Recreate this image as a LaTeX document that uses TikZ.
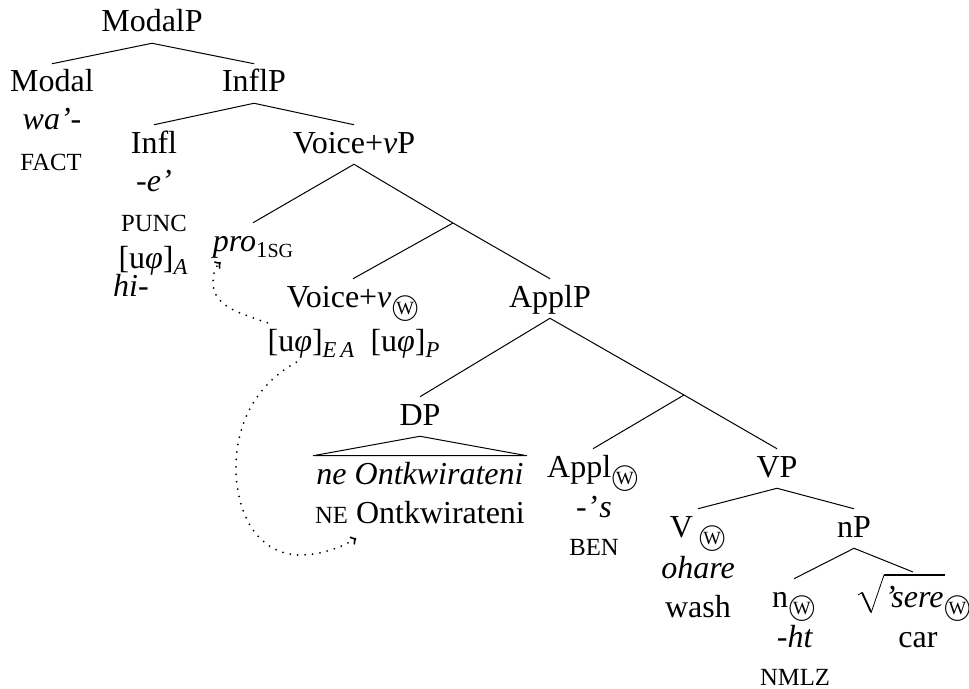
\documentclass[tikz,border=0pt]{standalone}
\usepackage{fontspec}
\setmainfont{Liberation Serif}
\usetikzlibrary{positioning}
\newcommand{\glosscaps}[1]{{\fontsize{18.5}{20}\selectfont #1}}
\newcommand{\lowsub}[1]{\raisebox{-4.5pt}{\fontsize{17}{20}\selectfont #1}}
\newcommand{\wmark}{\raisebox{-6.5pt}{\ooalign{%
    \fontsize{21}{22}\selectfont$\bigcirc$\cr
    \hfil\raisebox{0.6pt}{\fontsize{14}{16}\selectfont W}\hfil\cr}}}
\newcommand{\ufeat}{[u\textit{φ}]}
\tikzset{
    % Every label sits on its baseline, with a fixed box so branches stop evenly
    tree label/.style={
        anchor=base, inner sep=0, text height=21pt, text depth=8.25pt,
        font=\fontsize{24}{28}\selectfont},
%
    % The branches of the tree
    branch/.style={line width=0.75pt},
%
    % Movement and agreement paths
    agree path/.style={->, line width=1.5pt, line cap=round,
        dash pattern=on 0pt off 5.6pt}}

\begin{document}
\begin{tikzpicture}[x=0.75pt, y=-0.75pt]
\useasboundingbox (0,0) rectangle (969,688);

\node [tree label] (modal p) at (152,32) {ModalP};
\node [tree label] (modal) at (52,92) {Modal};
\node [tree label] (modal form) at (52,130) {\textit{wa'}-};
\node [tree label] (modal gloss) at (51,170) {\glosscaps{FACT}};

\node [tree label] (infl p) at (254,92) {InflP};
\node [tree label] (infl) at (154,153) {Infl};
\node [tree label] (infl form) at (154,191) {-\textit{e'}};
\node [tree label] (infl gloss) at (154,231) {\glosscaps{PUNC}};
\node [tree label] (infl feat) at (153,268) {\ufeat\lowsub{\textit{A}}};
\node [tree label] (infl prefix) at (131,296) {\textit{hi}-};

\node [tree label] (voice p) at (354,153) {Voice+\textit{v}P};
\coordinate (voice bar) at (453,223);
\node [tree label] (pro) at (253,251) {\textit{pro}\lowsub{1\glosscaps{\fontsize{15}{16}\selectfont SG}}};
\node [tree label] (voice) at (353,307) {Voice+\textit{v}\wmark};
\node [tree label] (voice ea) at (311,351) {\ufeat\lowsub{\textit{E\,A}}};
\node [tree label] (voice obj) at (405,351) {\ufeat\lowsub{\textit{P}}};

\node [tree label] (appl p) at (550,307) {ApplP};
\coordinate (appl bar) at (684,395);
\node [tree label] (dp) at (420,425) {DP};
\node [tree label, minimum width=160pt] (dp form) at (420,484) {\textit{ne Ontkwirateni}};
\node [tree label] (dp gloss) at (420,523) {\glosscaps{NE} Ontkwirateni};
\node [tree label] (appl) at (593,477) {Appl\wmark};
\node [tree label] (appl form) at (594,517) {-\textit{'\kern1.5pt s}};
\node [tree label] (appl gloss) at (594,555) {\glosscaps{BEN}};

\node [tree label] (v p) at (777,477) {VP};
\node [tree label] (v) at (698,537) {V\,\wmark};
\node [tree label] (v form) at (698,578) {\textit{ohare}};
\node [tree label] (v gloss) at (698,617) {wash};

\node [tree label] (n p) at (854,537) {nP};
\node [tree label] (n) at (794,607) {n\wmark};
\node [tree label] (n form) at (795,647) {-\textit{ht}};
\node [tree label, text depth=0pt] (n gloss) at (795,685) {\glosscaps{NMLZ}};
\node [tree label] (root) at (928,607) {\textit{'sere}\wmark};
\coordinate (root top) at (913,572);
\node [tree label] (root gloss) at (918,647) {car};

\draw[branch]
    (modal.north) -- (modal p.south) -- (infl p.north)
    (infl.north) -- (infl p.south) -- (voice p.north)
    (pro.north) -- (voice p.south) -- (voice bar) -- (appl p.north)
    (voice.north) -- (voice bar)
    (dp.north) -- (appl p.south) -- (appl bar) -- (v p.north)
    (appl.north) -- (appl bar)
    (v.north) -- (v p.south) -- (n p.north)
    (n.north) -- (n p.south) -- (root top);

\draw[branch]
    (dp.south) -- (dp form.north east) -- (dp form.north west) -- cycle;

% The root sign over the italic form
\draw[line width=0.6pt, line join=miter] (858,595) -- (862,592.5);
\draw[line width=1.4pt, line join=miter] (862,592.5) -- (871,612);
\draw[line width=0.6pt, line join=miter] (871,613) -- (884,575);
\draw[line width=1.2pt] (883.5,575) -- (945,575);

\draw[agree path]
    (voice ea.north west)
    .. controls (235,312) and (213,305) .. (213,282)
    .. controls (213,272) and (216,266) .. ([xshift=6pt]pro.south west);

\draw[agree path]
    ([xshift=-11pt]voice ea.south)
    .. controls (255,385) and (236,425) .. (236,467)
    .. controls (236,520) and (262,555) .. (300,555)
    .. controls (320,555) and (340,548) .. ([xshift=31pt,yshift=-3pt]dp gloss.south west);

\end{tikzpicture}
\end{document}
